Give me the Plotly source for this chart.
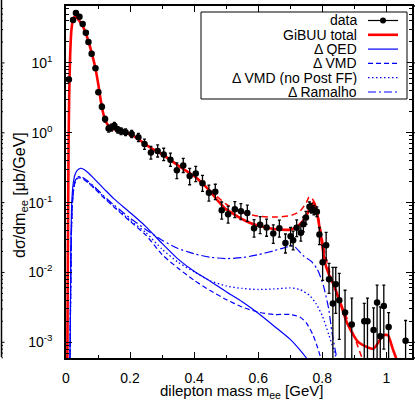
import numpy as np
import plotly.graph_objects as go

# ---- data points (dilepton mass [GeV], dsigma/dm [ub/GeV], errors) ----
DATA_M = [0.009, 0.022, 0.031, 0.042, 0.052, 0.062, 0.070, 0.080, 0.092, 0.101,
          0.112, 0.122, 0.133, 0.142, 0.151, 0.162, 0.172, 0.186, 0.205, 0.226,
          0.245, 0.265, 0.286, 0.305, 0.326, 0.346, 0.366, 0.386, 0.405, 0.426,
          0.446, 0.466, 0.486, 0.506, 0.527, 0.546, 0.566, 0.587, 0.606, 0.626,
          0.647, 0.666, 0.685, 0.701, 0.709, 0.720, 0.733, 0.741, 0.749, 0.760,
          0.766, 0.774, 0.783, 0.791, 0.801, 0.812, 0.821, 0.833, 0.842, 0.853,
          0.871, 0.892, 0.931, 0.941, 0.960, 0.971, 0.981, 0.992, 1.007, 1.060]
DATA_Y = [5.8, 41, 52, 46, 36, 27, 20, 13.5, 8.4, 3.8,
          2.36, 1.57, 1.15, 1.19, 1.26, 1.10, 1.05, 1.02, 0.96, 0.86,
          0.69, 0.52, 0.55, 0.49, 0.41, 0.29, 0.34, 0.24, 0.26, 0.19,
          0.138, 0.143, 0.078, 0.068, 0.080, 0.075, 0.071, 0.043, 0.048, 0.044,
          0.036, 0.043, 0.0265, 0.033, 0.029, 0.0435, 0.037, 0.049, 0.061, 0.087,
          0.083, 0.078, 0.074, 0.035, 0.014, 0.0245, 0.0080, 0.0036, 0.0068, 0.0040,
          0.00266, 0.0018, 0.0020, 0.0020, 0.0015, 0.0037, 0.00122, 0.0033, 0.00166, 0.00105]
DATA_EUP = [0.3, 2, 2.5, 2.2, 1.8, 1.3, 1.0, 0.7, 0.4, 0.25,
            0.2, 0.15, 0.14, 0.14, 0.15, 0.12, 0.12, 0.12, 0.12, 0.12,
            0.12, 0.12, 0.12, 0.11, 0.1, 0.08, 0.09, 0.07, 0.07, 0.055,
            0.04, 0.04, 0.024, 0.021, 0.023, 0.022, 0.021, 0.014, 0.015, 0.014,
            0.012, 0.013, 0.009, 0.011, 0.01, 0.013, 0.011, 0.013, 0.014, 0.015,
            0.014, 0.013, 0.013, 0.009, 0.0105, 0.013, 0.0055, 0.0082, 0.005, 0.0057,
            0.0029, 0.0025, 0.0016, 0.0023, 0.0016, 0.0029, 0.002, 0.0033, 0.001, 0.001]
DATA_EDN = [0.3, 2, 2.5, 2.2, 1.8, 1.3, 1.0, 0.7, 0.4, 0.25,
            0.2, 0.15, 0.13, 0.13, 0.14, 0.11, 0.11, 0.11, 0.11, 0.11,
            0.11, 0.1, 0.1, 0.09, 0.08, 0.07, 0.07, 0.06, 0.06, 0.045,
            0.033, 0.033, 0.02, 0.017, 0.019, 0.018, 0.017, 0.011, 0.012, 0.011,
            0.01, 0.011, 0.0075, 0.009, 0.008, 0.011, 0.009, 0.011, 0.012, 0.013,
            0.012, 0.011, 0.011, 0.01, 0.0063, 0.0095, 0.003, 0.003599, 0.0042, 0.0029,
            0.002659, 0.001799, 0.001999, 0.001999, 0.001499, 0.003699, 0.001219, 0.0025, 0.001659, 0.001049]

# ---- GiBUU total (red solid) ----
TOT_M = [0.004, 0.006, 0.008, 0.010, 0.013, 0.017, 0.022, 0.027, 0.032, 0.040,
         0.050, 0.060, 0.070, 0.080, 0.090, 0.100, 0.108, 0.115, 0.122, 0.130,
         0.140, 0.150, 0.175, 0.200, 0.225, 0.250, 0.275, 0.300, 0.325, 0.350,
         0.375, 0.400, 0.425, 0.450, 0.475, 0.500, 0.525, 0.550, 0.575, 0.600,
         0.650, 0.700, 0.720, 0.740, 0.755, 0.764, 0.772, 0.780, 0.791, 0.800,
         0.808, 0.820, 0.834, 0.855, 0.877, 0.913, 0.960, 0.990, 1.005, 1.020,
         1.030, 1.040]
TOT_Y = [0.0004, 0.02, 0.6, 3.5, 13, 30, 42, 46, 45, 41,
         35, 28, 20.5, 14, 9.2, 5.2, 3.0, 2.0, 1.55, 1.3,
         1.18, 1.12, 1.05, 0.95, 0.82, 0.67, 0.57, 0.49, 0.41, 0.34,
         0.285, 0.24, 0.19, 0.145, 0.105, 0.08, 0.068, 0.058, 0.051, 0.047,
         0.042, 0.041, 0.045, 0.055, 0.072, 0.088, 0.1, 0.085, 0.045, 0.024,
         0.014, 0.0095, 0.0069, 0.0038, 0.0019, 0.001, 0.00081, 0.00126, 0.00126, 0.0008,
         0.0006, 0.0004]

# ---- red dashed curve ----
ALT_M = [0.35, 0.40, 0.45, 0.50, 0.55, 0.60, 0.65, 0.70, 0.73, 0.75,
         0.759, 0.768, 0.78, 0.79, 0.80, 0.81, 0.83, 0.85, 0.877, 0.90,
         0.912, 0.93]
ALT_Y = [0.34, 0.24, 0.15, 0.095, 0.072, 0.064, 0.062, 0.065, 0.075, 0.1,
         0.12, 0.115, 0.09, 0.055, 0.03, 0.017, 0.008, 0.0045, 0.0022, 0.0012,
         0.00085, 0.0005]

# ---- Delta QED (blue solid) ----
QED_M = [0.011, 0.013, 0.015, 0.018, 0.022, 0.028, 0.035, 0.045, 0.055, 0.07,
         0.09, 0.12, 0.15, 0.2, 0.25, 0.3, 0.35, 0.4, 0.45, 0.5,
         0.55, 0.6, 0.65, 0.7, 0.73, 0.75, 0.77]
QED_Y = [0.0003, 0.001, 0.02, 0.1, 0.18, 0.25, 0.29, 0.31, 0.30, 0.265,
         0.215, 0.155, 0.113, 0.072, 0.045, 0.026, 0.0155, 0.0104, 0.0075, 0.0053,
         0.0038, 0.0026, 0.0017, 0.0011, 0.00078, 0.0006, 0.00045]

# ---- Delta VMD (blue dashed) ----
VMD_M = [0.012, 0.014, 0.017, 0.02, 0.025, 0.03, 0.037, 0.045, 0.055, 0.07,
         0.09, 0.12, 0.15, 0.2, 0.25, 0.3, 0.35, 0.4, 0.45, 0.5,
         0.55, 0.6, 0.65, 0.7, 0.73, 0.75, 0.77, 0.785, 0.8]
VMD_Y = [0.0003, 0.003, 0.04, 0.1, 0.17, 0.205, 0.225, 0.225, 0.215, 0.19,
         0.157, 0.115, 0.086, 0.054, 0.034, 0.018, 0.0115, 0.0077, 0.0055, 0.0041,
         0.0032, 0.0027, 0.0025, 0.0025, 0.0023, 0.0019, 0.0013, 0.00085, 0.0005]

# ---- Delta VMD, no Post FF (blue dotted) ----
NOFF_M = [0.012, 0.014, 0.017, 0.02, 0.025, 0.03, 0.037, 0.045, 0.055, 0.07,
          0.09, 0.12, 0.15, 0.2, 0.25, 0.3, 0.35, 0.4, 0.45, 0.5,
          0.55, 0.6, 0.65, 0.7, 0.73, 0.76, 0.78, 0.8, 0.82, 0.835, 0.85]
NOFF_Y = [0.0003, 0.003, 0.04, 0.1, 0.17, 0.21, 0.23, 0.23, 0.22, 0.195,
          0.162, 0.118, 0.088, 0.056, 0.037, 0.0215, 0.014, 0.0102, 0.0076, 0.0064,
          0.0059, 0.0057, 0.0058, 0.006, 0.0057, 0.0047, 0.0036, 0.0024, 0.0013, 0.0008, 0.00045]

# ---- Delta Ramalho (blue dash-dot) ----
RAM_M = [0.012, 0.014, 0.017, 0.02, 0.025, 0.03, 0.037, 0.045, 0.055, 0.07,
         0.09, 0.12, 0.15, 0.2, 0.25, 0.3, 0.35, 0.4, 0.45, 0.5,
         0.55, 0.6, 0.65, 0.68, 0.71, 0.74, 0.765, 0.785, 0.803, 0.82,
         0.83, 0.845]
RAM_Y = [0.0003, 0.003, 0.04, 0.1, 0.17, 0.215, 0.235, 0.235, 0.225, 0.2,
         0.167, 0.122, 0.092, 0.06, 0.041, 0.029, 0.022, 0.0185, 0.0165, 0.0158,
         0.0163, 0.018, 0.0205, 0.0225, 0.024, 0.0175, 0.0145, 0.011, 0.0066, 0.003,
         0.0014, 0.0006]

LEGEND_LABELS = ["data", "GiBUU total", "\u0394 QED", "\u0394 VMD",
                 "\u0394 VMD (no Post FF)", "\u0394 Ramalho"]

X_TICKS = [0, 0.2, 0.4, 0.6, 0.8, 1.0]
X_TICKTEXT = ["0", "0.2", "0.4", "0.6", "0.8", "1"]
Y_TICKS = [1e-3, 1e-2, 1e-1, 1, 10]
Y_TICKTEXT = ["10<sup>-3</sup>", "10<sup>-2</sup>", "10<sup>-1</sup>",
              "10<sup>0</sup>", "10<sup>1</sup>"]

RED = "#ff0000"
BLUE = "#0000ff"
FONT = "Liberation Sans, Arial, sans-serif"

W, H = 415, 401
ML, MR, MT, MB = 66, 3, 6, 43
PW, PH = W - ML - MR, H - MT - MB
YLOG = [-3.225, 1.815]


def px_x(px):
    return (px - ML) / PW


def px_y(py):
    return (H - MB - py) / PH


def log_y(v):
    return (np.log10(v) - YLOG[0]) / (YLOG[1] - YLOG[0])


fig = go.Figure()

curve_style = dict(mode="lines", hoverinfo="skip", showlegend=False)
fig.add_trace(go.Scatter(x=QED_M, y=QED_Y, line=dict(color=BLUE, width=1.2, shape="spline", smoothing=0.6), **curve_style))
fig.add_trace(go.Scatter(x=VMD_M, y=VMD_Y, line=dict(color=BLUE, width=1.2, dash="5px,3px", shape="spline", smoothing=0.6), **curve_style))
fig.add_trace(go.Scatter(x=NOFF_M, y=NOFF_Y, line=dict(color=BLUE, width=1.3, dash="1.5px,2.5px", shape="spline", smoothing=0.6), **curve_style))
fig.add_trace(go.Scatter(x=RAM_M, y=RAM_Y, line=dict(color=BLUE, width=1.2, dash="8px,3px,2px,3px", shape="spline", smoothing=0.6), **curve_style))
fig.add_trace(go.Scatter(x=ALT_M, y=ALT_Y, line=dict(color=RED, width=1.5, dash="6px,4px", shape="spline", smoothing=0.6), **curve_style))
fig.add_trace(go.Scatter(x=TOT_M, y=TOT_Y, line=dict(color=RED, width=2.6, shape="spline", smoothing=0.6), **curve_style))

fig.add_trace(go.Scatter(
    x=DATA_M, y=DATA_Y, mode="markers",
    marker=dict(color="black", size=6.5),
    error_y=dict(type="data", array=DATA_EUP, arrayminus=DATA_EDN,
                 color="black", thickness=1.3, width=1.5),
    showlegend=False,
))

# hand-drawn legend box in the top right, gnuplot style
shapes = [dict(type="rect", xref="paper", yref="paper",
               x0=px_x(201), x1=px_x(407), y0=px_y(99), y1=px_y(12),
               line=dict(color="black", width=1), fillcolor="white", layer="above")]
annotations = []
sample_styles = [
    dict(color="black", width=1.2),
    dict(color=RED, width=2.6),
    dict(color=BLUE, width=1.2),
    dict(color=BLUE, width=1.2, dash="5px,3px"),
    dict(color=BLUE, width=1.3, dash="1.5px,2.5px"),
    dict(color=BLUE, width=1.2, dash="8px,3px,2px,3px"),
]
for i, (label, st) in enumerate(zip(LEGEND_LABELS, sample_styles)):
    yy = px_y(20.5 + i * 14.3)
    annotations.append(dict(text=label, xref="paper", yref="paper", x=px_x(358), y=yy,
                            xanchor="right", yanchor="middle", showarrow=False,
                            height=14, borderpad=0,
                            font=dict(size=14, color="black", family=FONT)))
    shapes.append(dict(type="line", xref="paper", yref="paper",
                       x0=px_x(368), x1=px_x(398), y0=yy, y1=yy, line=st, layer="above"))
    if i == 0:
        shapes.append(dict(type="circle", xref="paper", yref="paper",
                           x0=px_x(380), x1=px_x(386), y0=yy - 3 / PH, y1=yy + 3 / PH,
                           fillcolor="black", line=dict(color="black", width=0), layer="above"))

# axis titles placed by hand (plotly ignores title standoff without automargin)
annotations.append(dict(text="d\u03c3/dm<sub>ee</sub> [\u03bcb/GeV]", textangle=-90,
                        xref="paper", yref="paper", x=px_x(21), y=px_y(195),
                        xanchor="center", yanchor="middle", showarrow=False,
                        font=dict(size=16, color="black", family=FONT)))
annotations.append(dict(text="dilepton mass m<sub>ee</sub> [GeV]",
                        xref="paper", yref="paper", x=px_x(241), y=px_y(391),
                        xanchor="center", yanchor="middle", showarrow=False,
                        font=dict(size=15, color="black", family=FONT)))

# neighbouring panel edges that show at the left and right of the crop
shapes.append(dict(type="line", xref="paper", yref="paper", x0=px_x(1.5), x1=px_x(1.5),
                   y0=px_y(357), y1=px_y(-2), line=dict(color="black", width=1.5)))
shapes.append(dict(type="line", xref="paper", yref="paper", x0=1, x1=px_x(416),
                   y0=1, y1=1, line=dict(color="black", width=1.5)))
shapes.append(dict(type="line", xref="paper", yref="paper", x0=1, x1=px_x(416),
                   y0=0, y1=0, line=dict(color="black", width=1.5)))
for e in range(-4, 2):
    for k in range(1, 10):
        v = k * 10.0 ** e
        if not (YLOG[0] < np.log10(v) < YLOG[1]):
            continue
        ln = 3 if k == 1 else 1.5
        shapes.append(dict(type="line", xref="paper", yref="paper", x0=1, x1=px_x(412 + ln),
                           y0=log_y(v), y1=log_y(v), line=dict(color="black", width=1)))
        shapes.append(dict(type="line", xref="paper", yref="paper", x0=px_x(1.5), x1=px_x(1.5 + ln),
                           y0=log_y(v), y1=log_y(v), line=dict(color="black", width=1)))

minor_y = [k * 10.0 ** e for e in range(-4, 2) for k in range(2, 10)]

fig.update_xaxes(
    range=[0, 1.08], tickmode="array", tickvals=X_TICKS, ticktext=X_TICKTEXT,
    ticks="inside", ticklen=6, tickwidth=1, tickcolor="black",
    minor=dict(tickmode="linear", tick0=0, dtick=0.1, ticks="inside", ticklen=3, tickcolor="black"),
    showline=True, linecolor="black", linewidth=1.5, mirror="ticks",
    showgrid=False, zeroline=False, ticklabelstandoff=6, automargin=False,
    tickfont=dict(size=14, color="black", family=FONT),
)
fig.update_yaxes(
    type="log", range=YLOG, tickmode="array", tickvals=Y_TICKS, ticktext=Y_TICKTEXT,
    ticks="inside", ticklen=6, tickwidth=1, tickcolor="black",
    minor=dict(tickmode="array", tickvals=minor_y, ticks="inside", ticklen=3, tickcolor="black"),
    showline=True, linecolor="black", linewidth=1.5, mirror="ticks",
    showgrid=False, zeroline=False, ticklabelstandoff=9, automargin=False,
    tickfont=dict(size=14, color="black", family=FONT),
)

fig.update_layout(
    width=W, height=H, margin=dict(l=ML, r=MR, t=MT, b=MB),
    paper_bgcolor="white", plot_bgcolor="white",
    font=dict(family=FONT, color="black"),
    shapes=shapes, annotations=annotations, showlegend=False,
)

# the page body has a default 8px margin; drop it so the figure sits at the window corner
fig.write_html("out.html", config={"displayModeBar": False},
               post_script="document.body.style.margin='0px';")
